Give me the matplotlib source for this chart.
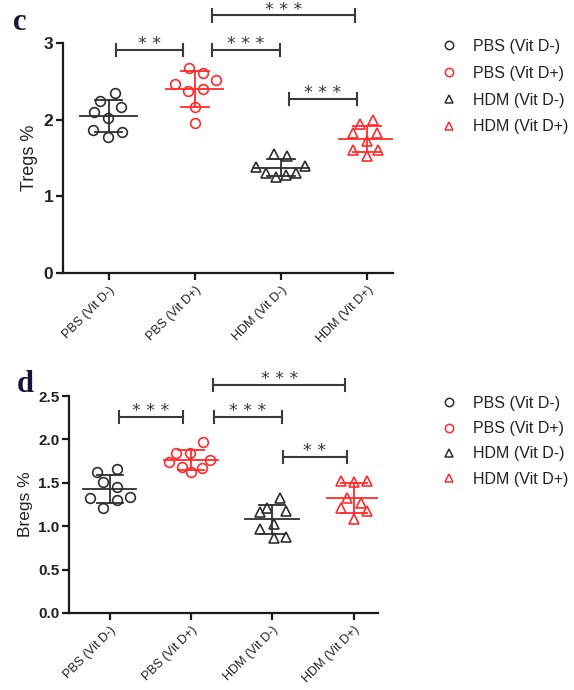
import matplotlib
matplotlib.use("Agg")
import matplotlib.pyplot as plt
from matplotlib.lines import Line2D
import numpy as np

plt.rcParams['font.family'] = ['Liberation Sans', 'DejaVu Sans']

groups = ["PBS (Vit D-)", "PBS (Vit D+)", "HDM (Vit D-)", "HDM (Vit D+)"]
markers = ["o", "o", "^", "^"]
colors = ["#2e2e2e", "#ff2b2b", "#2e2e2e", "#ff2b2b"]

# Panel c: Tregs %
tregs = [
    [2.35, 2.25, 2.17, 2.10, 2.02, 1.86, 1.77, 1.84],
    [2.67, 2.61, 2.47, 2.38, 2.40, 2.17, 1.96, 2.52],
    [1.55, 1.52, 1.38, 1.40, 1.30, 1.25, 1.28, 1.30],
    [1.94, 2.00, 1.82, 1.72, 1.82, 1.60, 1.53, 1.60],
]
tregs_jitter = [
    [0.07, -0.10, 0.14, -0.17, -0.01, -0.18, -0.01, 0.15],
    [-0.07, 0.09, -0.23, -0.08, 0.09, 0.0, 0.0, 0.24],
    [-0.08, 0.07, -0.29, 0.28, -0.17, -0.06, 0.06, 0.17],
    [-0.08, 0.07, -0.17, 0.0, 0.11, -0.16, 0.0, 0.13],
]
# significance: (x1, x2, y, label)
tregs_sig = [
    (0.09, 0.86, 2.91, "* *"),
    (1.20, 1.99, 2.91, "* * *"),
    (1.20, 2.86, 3.36, "* * *"),
    (2.09, 2.88, 2.27, "* * *"),
]

# Panel d: Bregs %
bregs = [
    [1.62, 1.66, 1.51, 1.45, 1.33, 1.30, 1.34, 1.21],
    [1.97, 1.84, 1.84, 1.74, 1.68, 1.62, 1.67, 1.76],
    [1.33, 1.21, 1.16, 1.18, 1.03, 0.97, 0.86, 0.88],
    [1.52, 1.51, 1.52, 1.32, 1.27, 1.21, 1.17, 1.08],
]
bregs_jitter = [
    [-0.16, 0.09, -0.08, 0.09, -0.24, 0.09, 0.25, -0.08],
    [0.15, -0.18, -0.01, -0.27, -0.11, 0.0, 0.13, 0.24],
    [0.09, -0.07, -0.15, 0.17, 0.02, -0.15, 0.02, 0.17],
    [-0.15, 0.0, 0.17, -0.08, 0.09, -0.15, 0.17, 0.0],
]
bregs_sig = [
    (0.11, 0.90, 2.26, "* * *"),
    (1.28, 2.12, 2.26, "* * *"),
    (1.27, 2.90, 2.63, "* * *"),
    (2.13, 2.92, 1.80, "* *"),
]

W, H = 574, 690
fig = plt.figure(figsize=(W / 100, H / 100), dpi=100)

def px_axes(left, right, top, bottom):
    return fig.add_axes([left / W, 1 - bottom / H, (right - left) / W, (bottom - top) / H])

def draw_panel(ax, data, jitter, sig, xlim, ylim, yticks, yticklabels, ylabel, ytick_fs, ylabel_fs, sig_h):
    for i, (vals, jit) in enumerate(zip(data, jitter)):
        vals = np.array(vals)
        xs = i + np.array(jit)
        ax.plot(xs, vals, linestyle="none", marker=markers[i], markersize=7 if markers[i] == "o" else 7.8,
                markerfacecolor="none", markeredgecolor=colors[i], markeredgewidth=1.2, zorder=3, clip_on=False)
        m = vals.mean()
        sd = vals.std(ddof=1)
        ax.plot([i - 0.33, i + 0.33], [m, m], color=colors[i], lw=1.3, zorder=4)
        ax.plot([i, i], [m - sd, m + sd], color=colors[i], lw=1.3, zorder=4)
        for yv in (m - sd, m + sd):
            ax.plot([i - 0.16, i + 0.16], [yv, yv], color=colors[i], lw=1.3, zorder=4)
    for x1, x2, y, lab in sig:
        ax.plot([x1, x2], [y, y], color="#3a3a3a", lw=1.5, clip_on=False, zorder=5)
        for xx in (x1, x2):
            ax.plot([xx, xx], [y - sig_h, y + sig_h], color="#3a3a3a", lw=1.5, clip_on=False, zorder=5)
        ax.annotate(lab, xy=((x1 + x2) / 2, y), xytext=(0, 0.5), textcoords="offset points",
                    ha="center", va="baseline", fontsize=12.5, color="#3a3a3a",
                    family="DejaVu Sans", annotation_clip=False)
    ax.set_xlim(*xlim)
    ax.set_ylim(*ylim)
    ax.set_yticks(yticks)
    ax.set_yticklabels(yticklabels, fontsize=ytick_fs, fontweight="bold", color="#222222")
    ax.set_xticks(range(len(groups)))
    ax.set_xticklabels(groups, rotation=45, ha="right", va="top", rotation_mode="anchor",
                       fontsize=9, color="#222222")
    ax.set_ylabel(ylabel, fontsize=ylabel_fs, color="#222222")
    for s in ("top", "right"):
        ax.spines[s].set_visible(False)
    for s in ("left", "bottom"):
        ax.spines[s].set_linewidth(1.6)
        ax.spines[s].set_color("#1a1a1a")
    ax.tick_params(axis="both", width=1.6, length=5, color="#1a1a1a")
    ax.tick_params(axis="y", pad=2)
    ax.tick_params(axis="x", pad=3)

# Panel c
ax1 = px_axes(63, 393, 43, 273)
draw_panel(ax1, tregs, tregs_jitter, tregs_sig, (-0.53, 3.3), (0, 3), [0, 1, 2, 3],
           ["0", "1", "2", "3"], "Tregs %", 12.5, 13, 0.08)
ax1.yaxis.set_label_coords(-0.075, 0.5)

# Panel d
ax2 = px_axes(69, 378, 396, 613)
draw_panel(ax2, bregs, bregs_jitter, bregs_sig, (-0.50, 3.3), (0, 2.5), [0, 0.5, 1.0, 1.5, 2.0, 2.5],
           ["0.0", "0.5", "1.0", "1.5", "2.0", "2.5"], "Bregs %", 11, 12.5, 0.07)
ax2.yaxis.set_label_coords(-0.117, 0.5)

# panel letters
fig.text(13 / W, 1 - 22 / H, "c", fontsize=22, fontweight="bold", family="Liberation Serif",
         color="#14143c", va="center", ha="left")
fig.text(17 / W, 1 - 385 / H, "d", fontsize=22, fontweight="bold", family="Liberation Serif",
         color="#14143c", va="center", ha="left")

handles = [Line2D([], [], linestyle="none", marker=markers[i], markersize=6,
                  markerfacecolor="none", markeredgecolor=colors[i], markeredgewidth=1.1)
           for i in range(4)]
fig.legend(handles, groups, loc="upper left", bbox_to_anchor=(433 / W, 1 - 31 / H),
           frameon=False, fontsize=11.5, handlelength=1.0, handletextpad=1.0,
           labelspacing=0.74, borderpad=0, labelcolor="#222222")
fig.legend(handles, groups, loc="upper left", bbox_to_anchor=(433 / W, 1 - 388 / H),
           frameon=False, fontsize=11.5, handlelength=1.0, handletextpad=1.0,
           labelspacing=0.64, borderpad=0, labelcolor="#222222")

fig.savefig("out.png", dpi=100)
